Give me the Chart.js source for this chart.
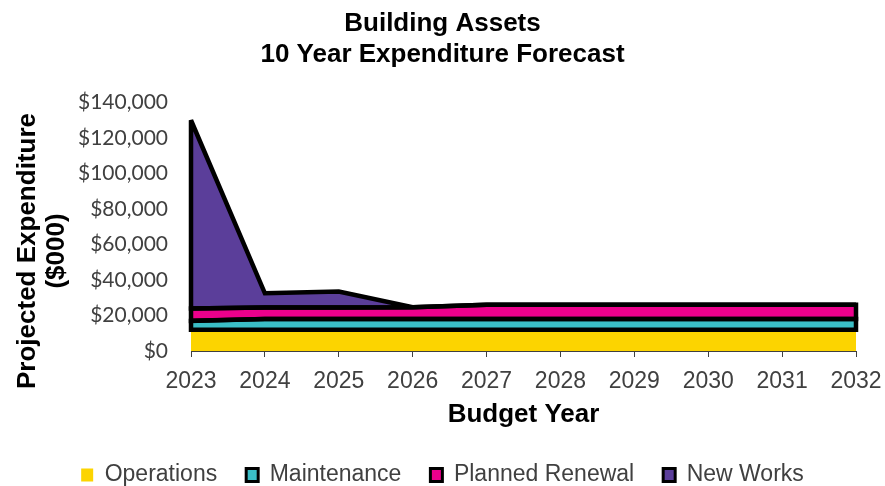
<!DOCTYPE html>
<html>
<head>
<meta charset="utf-8">
<script src="https://cdn.jsdelivr.net/npm/chart.js@4.4.1/dist/chart.umd.min.js"></script>
<style>
  html, body { margin: 0; padding: 0; background: #fff; }
</style>
</head>
<body>
<canvas id="chart" width="885" height="486"></canvas>
<script>
const years = ['2023', '2024', '2025', '2026', '2027', '2028', '2029', '2030', '2031', '2032'];
const operations = [12000, 12000, 12000, 12000, 12000, 12000, 12000, 12000, 12000, 12000];
const maintenance = [5000, 6000, 6000, 6000, 6000, 6000, 6000, 6000, 6000, 6000];
const plannedRenewal = [7000, 6500, 6500, 6700, 8000, 8000, 8000, 8000, 8000, 8000];
const newWorks = [106000, 8000, 9000, 0, 0, 0, 0, 0, 0, 0];
const yTicks = [0, 20000, 40000, 60000, 80000, 100000, 120000, 140000];

const seriesNames = ['Operations', 'Maintenance', 'Planned Renewal', 'New Works'];
const seriesColors = ['#FCD400', '#3BBEC6', '#EC008C', '#5B3E9A'];

const FONT = '"Liberation Sans", Arial, sans-serif';

// black outline round each stacked band (Operations has none)
const areaOutline = {
  id: 'areaOutline',
  afterDatasetsDraw(chart) {
    const ctx = chart.ctx;
    ctx.save();
    ctx.strokeStyle = '#000';
    ctx.lineWidth = 4.5;
    ctx.lineJoin = 'miter';
    ctx.miterLimit = 2.5;
    for (let i = 1; i < chart.data.datasets.length; i++) {
      const top = chart.getDatasetMeta(i).data;
      const base = chart.getDatasetMeta(i - 1).data;
      ctx.beginPath();
      ctx.moveTo(base[0].x, base[0].y);
      top.forEach(p => ctx.lineTo(p.x, p.y));
      for (let j = base.length - 1; j >= 0; j--) ctx.lineTo(base[j].x, base[j].y);
      ctx.closePath();
      ctx.stroke();
    }
    ctx.restore();
  }
};

// two-line rotated y axis title
const yTitle = {
  id: 'yTitle',
  afterDraw(chart) {
    const ctx = chart.ctx;
    ctx.save();
    ctx.translate(0, 251);
    ctx.rotate(-Math.PI / 2);
    ctx.font = 'bold 26px ' + FONT;
    ctx.fillStyle = '#000';
    ctx.textAlign = 'center';
    ctx.textBaseline = 'middle';
    ctx.fillText('Projected Expenditure', 0, 28);
    ctx.fillText('($000)', 0, 57);
    ctx.restore();
  }
};

// keep the legend strip a fixed height
const legendHeight = {
  id: 'legendHeight',
  beforeLayout(chart) {
    const lg = chart.legend;
    if (lg && !lg._fixedHeight) {
      const fit = lg.fit;
      lg.fit = function () { fit.call(this); this.height = 51.5; };
      lg._fixedHeight = true;
    }
  }
};

const series = [operations, maintenance, plannedRenewal, newWorks];

new Chart(document.getElementById('chart'), {
  type: 'line',
  data: {
    labels: years,
    datasets: series.map((data, i) => ({
      label: seriesNames[i],
      data: data,
      backgroundColor: seriesColors[i],
      borderColor: '#000',
      borderWidth: 0,
      fill: i === 0 ? 'origin' : '-1',
      pointRadius: 0,
      pointHoverRadius: 0,
      tension: 0
    }))
  },
  options: {
    responsive: false,
    animation: false,
    events: [],
    layout: { padding: 0 },
    plugins: {
      title: {
        display: true,
        text: ['Building Assets', '10 Year Expenditure Forecast'],
        color: '#000',
        font: { family: FONT, size: 26, weight: 'bold', lineHeight: 1.2 },
        padding: { top: 8.5, bottom: 31.6 }
      },
      legend: {
        position: 'bottom',
        labels: {
          color: '#404040',
          font: { family: FONT, size: 23 },
          boxWidth: 12,
          boxHeight: 13,
          padding: 29,
          generateLabels(chart) {
            const items = Chart.defaults.plugins.legend.labels.generateLabels(chart);
            items.forEach((it, i) => {
              it.fillStyle = seriesColors[i];
              it.strokeStyle = '#000';
              it.lineWidth = i === 0 ? 0 : 3;
            });
            return items;
          }
        }
      },
      tooltip: { enabled: false }
    },
    scales: {
      x: {
        afterFit(scale) {
          scale.height = 83.5;
          scale.paddingRight = 29;
        },
        grid: {
          display: true,
          drawOnChartArea: false,
          drawTicks: true,
          tickLength: 6,
          color: '#404040'
        },
        border: { display: true, color: '#404040', width: 1 },
        ticks: {
          color: '#404040',
          font: { family: FONT, size: 23 },
          padding: 11,
          autoSkip: false,
          maxRotation: 0
        },
        title: {
          display: true,
          text: 'Budget Year',
          color: '#000',
          font: { family: FONT, size: 26, weight: 'bold', lineHeight: 1.05 },
          padding: { top: 0, bottom: 6 }
        }
      },
      y: {
        stacked: true,
        min: 0,
        max: 140000,
        afterFit(scale) { scale.width = 191; },
        afterBuildTicks(scale) { scale.ticks = yTicks.map(v => ({ value: v })); },
        grid: { display: false, drawTicks: false },
        border: { display: false },
        ticks: {
          color: '#404040',
          font: { family: 'Lato, ' + FONT, size: 21 },
          padding: 23,
          callback: v => '$' + Number(v).toLocaleString('en-US')
        }
      }
    }
  },
  plugins: [areaOutline, yTitle, legendHeight]
});
</script>
</body>
</html>
